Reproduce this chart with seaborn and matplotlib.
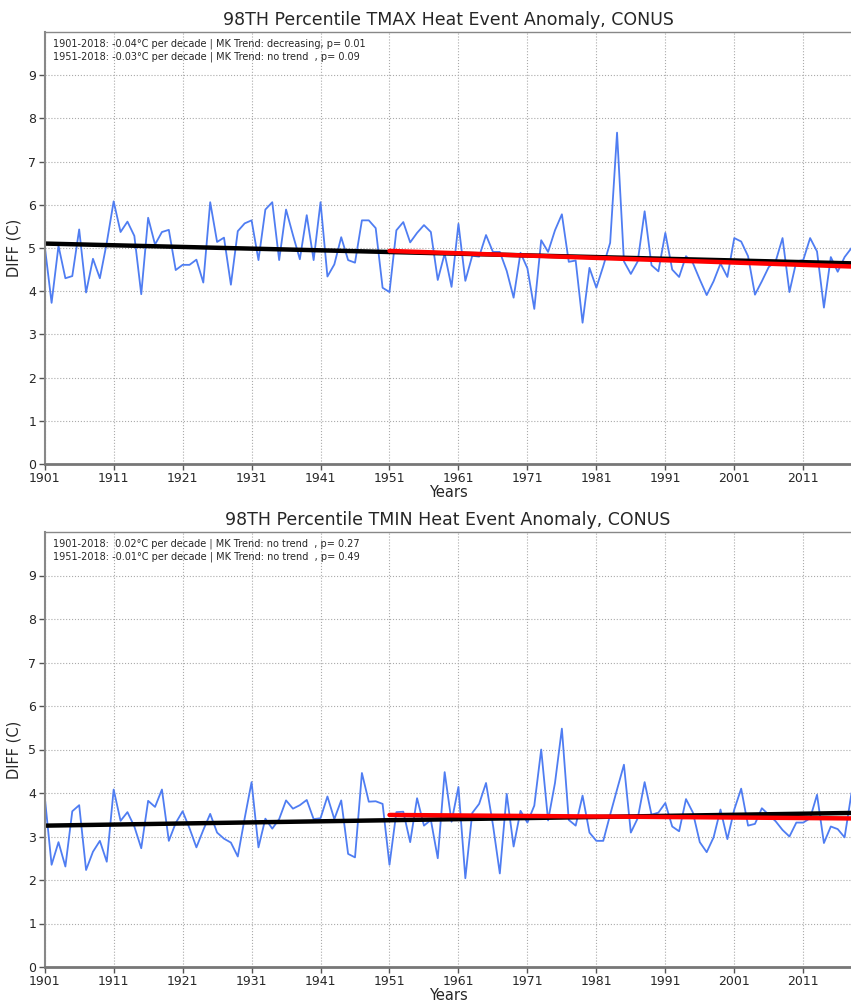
import numpy as np
import pandas as pd
import matplotlib
matplotlib.use("Agg")
import matplotlib.pyplot as plt
import seaborn as sns

years = list(range(1901, 2019))

tmax = [
    5.05, 3.73, 5.05, 4.30, 4.35, 5.43, 3.97, 4.75, 4.30, 5.12,
    6.08, 5.37, 5.61, 5.28, 3.93, 5.70, 5.08, 5.37, 5.42, 4.49,
    4.61, 4.61, 4.73, 4.20, 6.06, 5.14, 5.24, 4.15, 5.39, 5.57,
    5.64, 4.72, 5.89, 6.06, 4.72, 5.89, 5.30, 4.74, 5.76, 4.72,
    6.06, 4.34, 4.62, 5.25, 4.72, 4.66, 5.64, 5.64, 5.46, 4.08,
    3.98, 5.41, 5.60, 5.13, 5.35, 5.53, 5.37, 4.26, 4.87, 4.10,
    5.56, 4.24, 4.82, 4.80, 5.30, 4.91, 4.91, 4.47, 3.85, 4.89,
    4.53, 3.59, 5.18, 4.91, 5.41, 5.78, 4.68, 4.71, 3.27, 4.54,
    4.08, 4.58, 5.12, 7.67, 4.69, 4.40, 4.69, 5.85, 4.60, 4.46,
    5.35, 4.50, 4.33, 4.81, 4.65, 4.27, 3.91, 4.23, 4.64, 4.33,
    5.23, 5.15, 4.81, 3.92, 4.23, 4.56, 4.69, 5.23, 3.98, 4.69,
    4.72, 5.23, 4.92, 3.62, 4.79, 4.45, 4.79, 5.00,
]

tmin = [
    3.92, 2.35, 2.87, 2.31, 3.58, 3.72, 2.23, 2.65, 2.90, 2.42,
    4.08, 3.36, 3.56, 3.23, 2.73, 3.82, 3.68, 4.08, 2.90, 3.31,
    3.58, 3.19, 2.75, 3.15, 3.52, 3.09, 2.95, 2.86, 2.54, 3.42,
    4.25, 2.75, 3.41, 3.18, 3.40, 3.83, 3.64, 3.72, 3.84, 3.40,
    3.42, 3.92, 3.40, 3.83, 2.60, 2.52, 4.46, 3.80, 3.81, 3.75,
    2.35, 3.56, 3.57, 2.87, 3.88, 3.25, 3.38, 2.50, 4.48, 3.34,
    4.14, 2.04, 3.54, 3.75, 4.23, 3.27, 2.15, 3.98, 2.77, 3.59,
    3.32, 3.71, 5.00, 3.37, 4.23, 5.48, 3.38, 3.25, 3.94, 3.09,
    2.90, 2.90, 3.50, 4.08, 4.65, 3.09, 3.42, 4.25, 3.50, 3.55,
    3.77, 3.23, 3.12, 3.86, 3.55, 2.87, 2.64, 2.98, 3.62, 2.94,
    3.62, 4.10, 3.25, 3.29, 3.65, 3.50, 3.35, 3.15, 3.00, 3.32,
    3.32, 3.42, 3.96, 2.85, 3.23, 3.17, 2.98, 4.00,
]

titles = ["98TH Percentile TMAX Heat Event Anomaly, CONUS",
          "98TH Percentile TMIN Heat Event Anomaly, CONUS"]
notes = [
    ["1901-2018: -0.04°C per decade | MK Trend: decreasing, p= 0.01",
     "1951-2018: -0.03°C per decade | MK Trend: no trend  , p= 0.09"],
    ["1901-2018:  0.02°C per decade | MK Trend: no trend  , p= 0.27",
     "1951-2018: -0.01°C per decade | MK Trend: no trend  , p= 0.49"],
]
xticks = list(range(1901, 2012, 10))
yticks = list(range(0, 10))

sns.set_style("whitegrid")
plt.rcParams['font.family'] = ['DejaVu Sans']

fig = plt.figure(figsize=(8.51, 10.02), dpi=100)
W, H = 851.0, 1002.0
left_px, right_px = 44.7, 851.5
panels = [(32, 464), (532, 967)]

for i, (series, (ytop, ybot)) in enumerate(zip([tmax, tmin], panels)):
    ax = fig.add_axes([left_px / W, 1 - ybot / H, (right_px - left_px) / W, (ybot - ytop) / H])
    df = pd.DataFrame({"year": years, "val": series})
    sns.lineplot(data=df, x="year", y="val", ax=ax, color="#4f7df2", lw=1.3)

    # linear trends fitted to the series
    yr = np.array(years, dtype=float)
    v = np.array(series)
    p_all = np.polyfit(yr, v, 1)
    sub = yr >= 1951
    p_sub = np.polyfit(yr[sub], v[sub], 1)
    tr_all = pd.DataFrame({"year": yr, "val": np.polyval(p_all, yr)})
    tr_sub = pd.DataFrame({"year": yr[sub], "val": np.polyval(p_sub, yr[sub])})
    sns.lineplot(data=tr_all, x="year", y="val", ax=ax, color="black", lw=3.2)
    sns.lineplot(data=tr_sub, x="year", y="val", ax=ax, color="#ff0000", lw=3.2)

    ax.set_xlim(1901, 2018)
    ax.set_ylim(0, 10)
    ax.set_xticks(xticks)
    ax.set_yticks(yticks)
    ax.tick_params(axis="both", labelsize=9, length=4, width=1, color="#555555",
                   bottom=True, left=True, pad=2)
    ax.grid(True, linestyle=":", color="#aaaaaa", lw=0.8)
    for s in ax.spines.values():
        s.set_color("#888888")
        s.set_linewidth(1.0)
    ax.spines["bottom"].set_linewidth(2.0)
    ax.spines["bottom"].set_color("#777777")
    ax.spines["left"].set_linewidth(1.5)
    ax.set_xlabel("Years", fontsize=10.5, labelpad=0)
    ax.set_ylabel("DIFF (C)", fontsize=10.5, labelpad=5)
    ax.set_title(titles[i], fontsize=12.5, pad=5)
    ax.text(0.01, 0.985, notes[i][0] + "\n" + notes[i][1], transform=ax.transAxes,
            fontsize=7, va="top", ha="left", linespacing=1.35)

fig.savefig("out.png", dpi=100)
